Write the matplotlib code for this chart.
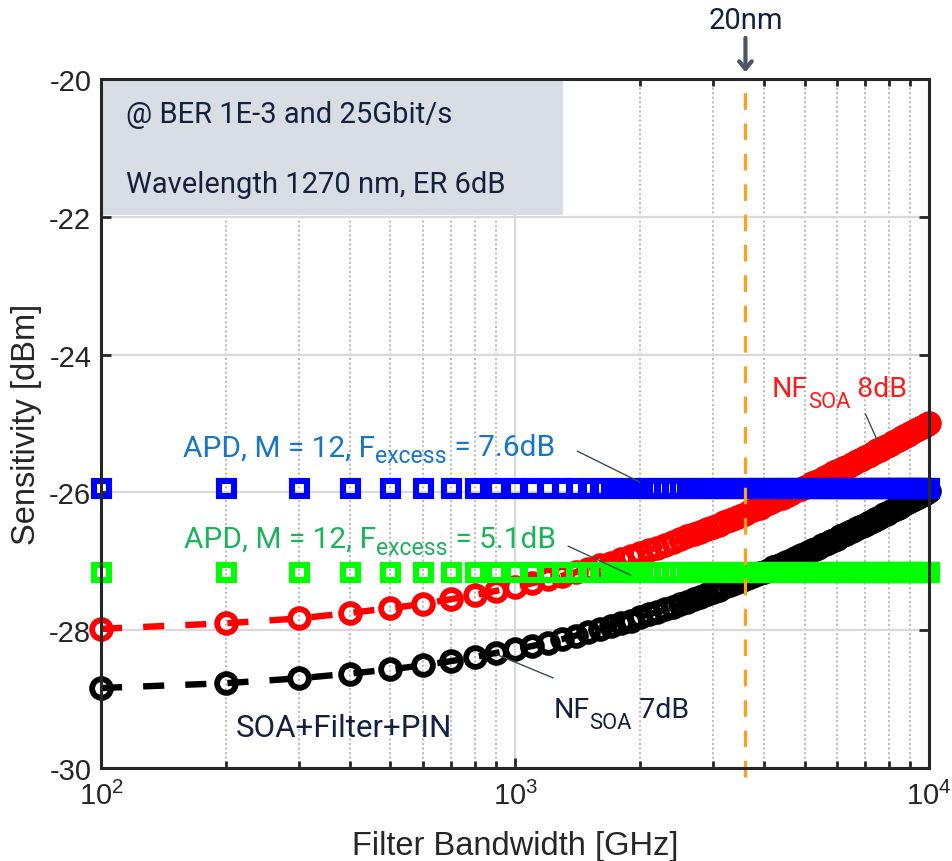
import numpy as np
import matplotlib
matplotlib.use('Agg')
import matplotlib.pyplot as plt
from matplotlib.patches import Rectangle
from matplotlib.transforms import offset_copy

############# Data #############

# filter bandwidth [GHz]
bw = [100, 200, 300, 400, 500, 600, 700, 800, 900, 1000,
      1100, 1200, 1300, 1400, 1500, 1600, 1700, 1800, 1900, 2000,
      2100, 2200, 2300, 2400, 2500, 2600, 2700, 2800, 2900, 3000,
      3100, 3200, 3300, 3400, 3500, 3600, 3700, 3800, 3900, 4000,
      4100, 4200, 4300, 4400, 4500, 4600, 4700, 4800, 4900, 5000,
      5100, 5200, 5300, 5400, 5500, 5600, 5700, 5800, 5900, 6000,
      6100, 6200, 6300, 6400, 6500, 6600, 6700, 6800, 6900, 7000,
      7100, 7200, 7300, 7400, 7500, 7600, 7700, 7800, 7900, 8000,
      8100, 8200, 8300, 8400, 8500, 8600, 8700, 8800, 8900, 9000,
      9100, 9200, 9300, 9400, 9500, 9600, 9700, 9800, 9900, 10000]

# SOA+Filter+PIN, NF_SOA = 7dB [dBm]
nf7 = [-28.84, -28.77, -28.70, -28.63, -28.57, -28.51, -28.45, -28.39, -28.33, -28.28,
       -28.23, -28.18, -28.13, -28.08, -28.03, -27.99, -27.94, -27.90, -27.86, -27.81,
       -27.77, -27.74, -27.70, -27.66, -27.62, -27.59, -27.55, -27.52, -27.48, -27.45,
       -27.42, -27.38, -27.35, -27.32, -27.29, -27.26, -27.23, -27.20, -27.17, -27.15,
       -27.12, -27.09, -27.07, -27.04, -27.01, -26.99, -26.96, -26.94, -26.91, -26.89,
       -26.87, -26.84, -26.82, -26.80, -26.77, -26.75, -26.73, -26.71, -26.69, -26.67,
       -26.64, -26.62, -26.60, -26.58, -26.56, -26.54, -26.52, -26.50, -26.49, -26.47,
       -26.45, -26.43, -26.41, -26.39, -26.38, -26.36, -26.34, -26.32, -26.31, -26.29,
       -26.27, -26.26, -26.24, -26.22, -26.21, -26.19, -26.17, -26.16, -26.14, -26.13,
       -26.11, -26.10, -26.08, -26.07, -26.05, -26.04, -26.02, -26.01, -25.99, -25.98]

# SOA+Filter+PIN, NF_SOA = 8dB [dBm]
nf8 = [-27.98, -27.90, -27.83, -27.75, -27.68, -27.62, -27.55, -27.49, -27.43, -27.37,
       -27.32, -27.26, -27.21, -27.16, -27.11, -27.06, -27.02, -26.97, -26.93, -26.88,
       -26.84, -26.80, -26.76, -26.72, -26.68, -26.64, -26.61, -26.57, -26.53, -26.50,
       -26.47, -26.43, -26.40, -26.37, -26.34, -26.31, -26.27, -26.24, -26.22, -26.19,
       -26.16, -26.13, -26.10, -26.08, -26.05, -26.02, -26.00, -25.97, -25.95, -25.92,
       -25.90, -25.87, -25.85, -25.83, -25.80, -25.78, -25.76, -25.73, -25.71, -25.69,
       -25.67, -25.65, -25.63, -25.61, -25.59, -25.57, -25.55, -25.53, -25.51, -25.49,
       -25.47, -25.45, -25.43, -25.41, -25.39, -25.38, -25.36, -25.34, -25.32, -25.31,
       -25.29, -25.27, -25.25, -25.24, -25.22, -25.20, -25.19, -25.17, -25.16, -25.14,
       -25.13, -25.11, -25.09, -25.08, -25.06, -25.05, -25.03, -25.02, -25.00, -24.99]

# APD receivers (flat) [dBm]
apd_76 = [-25.93] * len(bw)
apd_51 = [-27.15] * len(bw)

bw_20nm = 3600   # 20nm at 1270nm in GHz

y_ticks = [-30, -28, -26, -24, -22, -20]
x_ticks = [100, 1000, 10000]
x_tick_labels = [r'$\mathsf{10^{2}}$', r'$\mathsf{10^{3}}$', r'$\mathsf{10^{4}}$']

#####################################################

plt.rcParams['font.family'] = 'Liberation Sans'
plt.rcParams['axes.unicode_minus'] = False
plt.rcParams['mathtext.fontset'] = 'custom'
plt.rcParams['mathtext.rm'] = 'Liberation Sans'
plt.rcParams['mathtext.sf'] = 'Liberation Sans'

navy = '#13213f'
leader = '#3d4b5c'
txt_font = 'Roboto'

fig = plt.figure(figsize=(9.53, 8.62), dpi=100)
ax = fig.add_axes([0.106, 0.108, 0.869, 0.799])
renderer = fig.canvas.get_renderer()


def sub_text(x, y, parts, size, color, drop):
    # writes text pieces one after the other, 'sub' pieces smaller and lowered
    dx = 0
    for s, kind in parts:
        fs = size if kind == 'main' else size * 0.77
        dy = 0 if kind == 'main' else -drop
        t = ax.text(x, y, s, fontsize=fs, family=txt_font, color=color, va='baseline',
                    transform=offset_copy(ax.transAxes, fig=fig, x=dx, y=dy, units='dots'),
                    zorder=6)
        dx += t.get_window_extent(renderer).width


def leader_line(xy, xytext):
    ax.annotate('', xy=xy, xycoords='data', xytext=xytext, textcoords='axes fraction',
                arrowprops=dict(arrowstyle='-', color=leader, lw=1, shrinkA=0, shrinkB=0),
                zorder=6)


ax.set_xscale('log')
ax.set_xlim(100, 10000)
ax.set_ylim(-30, -20)

# grid
ax.grid(which='major', color='#d9d9d9', lw=1.6, ls='-', zorder=0)
ax.grid(which='minor', axis='x', color='#bdbdbd', lw=1.5, ls=(0, (1, 1.2)), zorder=0)
ax.set_axisbelow(True)

# grey info box
ax.add_patch(Rectangle((0, 0.8026), 0.558, 0.1974, transform=ax.transAxes,
                       facecolor='#d9dde4', edgecolor='none', zorder=1))
ax.text(0.030, 0.9376, '@ BER 1E-3 and 25Gbit/s', transform=ax.transAxes,
        fontsize=21, family=txt_font, color=navy, va='baseline', zorder=2)
ax.text(0.030, 0.836, 'Wavelength 1270 nm, ER 6dB', transform=ax.transAxes,
        fontsize=21, family=txt_font, color=navy, va='baseline', zorder=2)

# curves
ax.plot(bw, nf7, color='black', ls=(0, (3.3, 3.3)), lw=4.6, marker='o', ms=13.5,
        mfc='none', mew=4.2, clip_on=False, zorder=3)
ax.plot(bw, nf8, color='red', ls=(0, (3.3, 3.3)), lw=4.6, marker='o', ms=13.5,
        mfc='none', mew=4.2, clip_on=False, zorder=3)
ax.plot(bw, apd_51, color='#00ff00', ls='none', marker='s', ms=10.8,
        mfc='none', mew=4.4, clip_on=False, zorder=4)
ax.plot(bw, apd_76, color='blue', ls='none', marker='s', ms=10.8,
        mfc='none', mew=4.4, clip_on=False, zorder=4)

# 20nm marker
ax.axvline(bw_20nm, ymin=-0.013, ymax=1, color='#ff9f1a', lw=2.3,
           ls=(0, (5.2, 4.3)), clip_on=False, zorder=5)
ax.annotate('', xy=(bw_20nm, 1.010), xycoords=('data', 'axes fraction'),
            xytext=(bw_20nm, 1.06), textcoords=('data', 'axes fraction'),
            arrowprops=dict(arrowstyle='->,head_length=0.55,head_width=0.45',
                            color='#4b5563', lw=3, shrinkA=0, shrinkB=0))
ax.text(bw_20nm, 1.074, '20nm', transform=ax.get_xaxis_transform(),
        fontsize=21, family=txt_font, color=navy, ha='center', va='baseline')

# labels with leader lines
sub_text(0.099, 0.454, [('APD, M = 12, F', 'main'), ('excess', 'sub'), (' = 7.6dB', 'main')],
         21.5, '#1876c8', 7)
leader_line((2000, -25.85), (0.575, 0.460))

sub_text(0.100, 0.321, [('APD, M = 12, F', 'main'), ('excess', 'sub'), (' = 5.1dB', 'main')],
         21.5, '#1db35a', 7)
leader_line((1900, -27.2), (0.564, 0.322))

sub_text(0.810, 0.540, [('NF', 'main'), ('SOA', 'sub'), (' 8dB', 'main')],
         20.5, '#ff1a1a', 11)
leader_line((7500, -25.25), (0.923, 0.514))

sub_text(0.546, 0.074, [('NF', 'main'), ('SOA', 'sub'), (' 7dB', 'main')],
         20.5, navy, 11)
leader_line((900, -28.35), (0.546, 0.1306))

ax.text(0.163, 0.046, 'SOA+Filter+PIN', transform=ax.transAxes,
        fontsize=22.5, family=txt_font, color=navy, va='baseline', zorder=6)

# axes styling
ax.set_xticks(x_ticks)
ax.set_xticklabels(x_tick_labels)
ax.set_yticks(y_ticks)
ax.set_yticklabels([str(t) for t in y_ticks])
ax.tick_params(which='both', direction='in', top=True, right=True, colors='#262626')
ax.tick_params(which='major', length=7, width=2)
ax.tick_params(which='minor', length=5, width=2)
ax.tick_params(axis='y', labelsize=21, pad=7)
ax.tick_params(axis='x', labelsize=21, pad=9)
for s in ax.spines.values():
    s.set_linewidth(2.2)
    s.set_color('#262626')
    s.set_zorder(7)

ax.set_xlabel('Filter Bandwidth [GHz]', fontsize=23.5, color='#262626', labelpad=15)
ax.set_ylabel('Sensitivity [dBm]', fontsize=23.5, color='#262626', labelpad=5)

plt.savefig('out.png', dpi=100)
plt.close()
